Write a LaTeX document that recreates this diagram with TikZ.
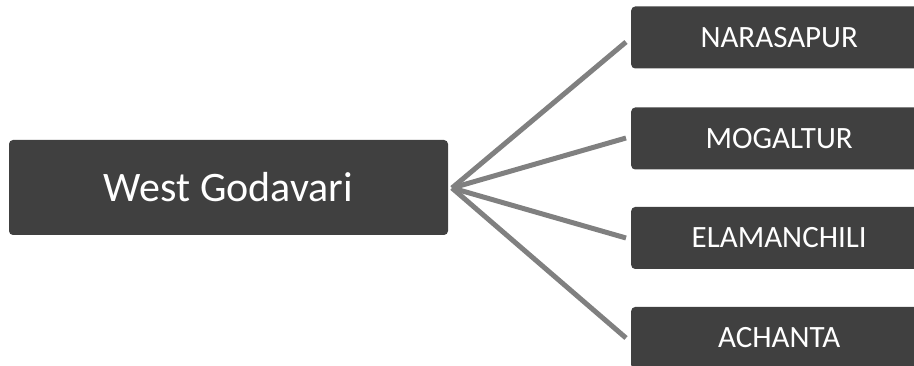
\documentclass[tikz,border=0pt]{standalone}
\usepackage{fontspec}
\setmainfont{Carlito}
\definecolor{boxfill}{HTML}{404040}
\definecolor{linkgray}{HTML}{808080}
\begin{document}
\begin{tikzpicture}[x=1pt,y=-1pt,
  mainbox/.style={fill=boxfill,rounded corners=4pt,text=white,inner sep=0pt,font=\fontsize{42}{50}\selectfont},
  subbox/.style={fill=boxfill,rounded corners=4pt,text=white,inner sep=0pt,minimum width=296pt,minimum height=62pt,font=\fontsize{31}{36}\selectfont},
  link/.style={draw=linkgray,line width=5pt}]
\useasboundingbox (0,0) rectangle (914,366);
\clip (0,0) rectangle (914,366);
\node[mainbox,minimum width=439pt,minimum height=95pt] (wg) at (228.5,187.5) {West Godavari};
\node[subbox,anchor=west] (n1) at (631,37.5) {NARASAPUR};
\node[subbox,anchor=west] (n2) at (631,138.5) {MOGALTUR};
\node[subbox,anchor=west] (n3) at (631,238) {ELAMANCHILI};
\node[subbox,anchor=west] (n4) at (631,338) {ACHANTA};
\coordinate (hub) at (452,188);
\foreach \i/\y in {1/42,2/138,3/238,4/338}{
  \draw[link] (hub) -- ([xshift=-5pt]n\i.west |- 0,\y);
}
\end{tikzpicture}
\end{document}
